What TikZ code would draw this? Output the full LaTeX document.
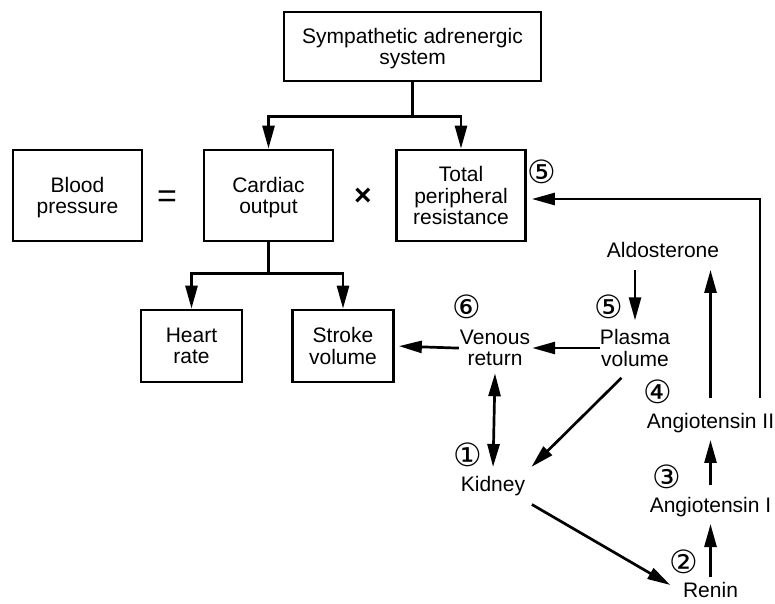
\documentclass[tikz,border=0pt]{standalone}
\usepackage{fontspec}
\setmainfont{Liberation Sans}
\newfontfamily\circfont{DejaVu Sans}
\usetikzlibrary{arrows.meta,calc}
\newcommand\fs{\fontsize{21pt}{21.5pt}\selectfont}
\newcommand\cfs{\circfont\fontsize{32pt}{32pt}\selectfont}
\begin{document}
\begin{tikzpicture}[x=1pt,y=-1pt,
  box/.style={draw, line width=2.7pt, font=\fs, align=center, inner sep=0pt, text depth=0pt},
  bigbox/.style={box, minimum width=129pt, minimum height=91pt},
  smallbox/.style={box, minimum width=101pt, minimum height=72pt},
  lbl/.style={font=\fs, align=center, inner xsep=4pt, inner ysep=7pt},
  num/.style={font=\cfs, inner sep=0pt},
  ln/.style={line width=2.7pt},
  arr/.style={line width=2.7pt, -{Triangle[length=23pt,width=12pt]}},
  darr/.style={line width=2.7pt, {Triangle[length=23pt,width=12pt]}-{Triangle[length=23pt,width=12pt]}}]
\useasboundingbox (0,0) rectangle (775,603);

% boxes
\node[box, minimum width=257pt, minimum height=69pt] (sym) at (412.5,46.5) {Sympathetic adrenergic\\system};
\node[bigbox] (bp) at (77.5,195.5) {Blood\\pressure};
\node[bigbox] (co) at (268.5,195.5) {Cardiac\\output};
\node[bigbox] (tpr) at (461,195.5) {Total\\peripheral\\resistance};
\node[smallbox] (hr) at (191.5,346) {Heart\\rate};
\node[smallbox] (sv) at (343,346) {Stroke\\volume};

% operators
\node[font=\fontsize{34pt}{34pt}\selectfont, inner sep=0pt] (eq) at (167,199) {=};
\node[font=\bfseries\fontsize{30pt}{30pt}\selectfont, inner sep=0pt] (times) at (363,197) {×};

% text nodes
\node[lbl] (venous) at (495,348) {Venous\\return};
\node[lbl] (plasma) at (635,348) {Plasma\\volume};
\node[lbl] (ald) at (663,250) {Aldosterone};
\node[lbl] (ang2) at (710.5,423) {Angiotensin II};
\node[lbl] (ang1) at (710.5,507) {Angiotensin I};
\node[lbl] (renin) at (710.5,590) {Renin};
\node[lbl] (kid) at (493,486) {Kidney};

% circled numbers
\node[num] (n5a) at (542,172) {⑤};
\node[num] (n6) at (467,307) {⑥};
\node[num] (n5b) at (609,307) {⑤};
\node[num] (n4) at (658,392) {④};
\node[num] (n3) at (667,477) {③};
\node[num] (n2) at (684,562) {②};
\node[num] (n1) at (468,455) {①};

% top branching
\coordinate (j1) at ($(sym.south)+(0,34)$);
\draw[ln] (sym.south) -- (j1);
\draw[arr] (j1) -| (co.north);
\draw[arr] (j1) -| (tpr.north);

% cardiac output branching
\coordinate (j2) at ($(co.south)+(0,31)$);
\draw[ln] (co.south) -- (j2);
\draw[arr] (j2) -| (hr.north);
\draw[arr] (j2) -| (sv.north);

% right feedback loop
\coordinate (rc) at (760,199);
\draw[arr, shorten <=8pt, shorten >=5pt] (ang2.north -| rc) -- (rc) -- (rc -| tpr.east);

% renin-angiotensin chain
\draw[arr, shorten <=8pt, shorten >=5pt] (ang2.north) -- (ang2.north |- ald.south);
\draw[arr, shorten <=5pt, shorten >=2pt] (ald.south -| plasma.north) -- (plasma.north);
\draw[arr, shorten <=-2pt] (renin.north) -- (ang1.south);
\draw[arr, shorten <=5pt] (ang1.north) -- (ang2.south);

% volume chain
\draw[arr, shorten <=-4pt, shorten >=-2pt] (plasma.west) -- (venous.east);
\draw[arr, shorten <=-3pt, shorten >=4pt] (venous.west) -- (sv.east);
\draw[darr, shorten >=2pt] (venous.south) -- (kid.north);
\draw[arr, shorten <=6pt, shorten >=3pt] (plasma.250) -- (kid.north east);
\draw[arr, shorten <=3pt, shorten >=10pt] (kid.south east) -- (renin.west);
\end{tikzpicture}
\end{document}
